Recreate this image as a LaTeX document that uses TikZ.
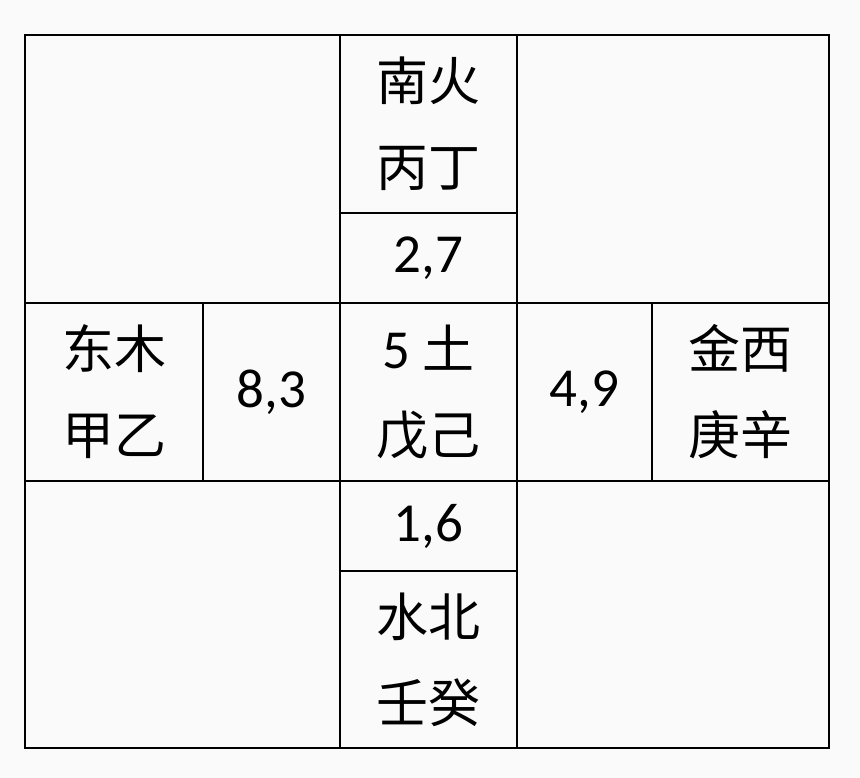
\documentclass[tikz,border=0pt]{standalone}
\usepackage{fontspec}
\setmainfont{Carlito}
\newfontfamily\cjk{Noto Sans CJK SC}
\usetikzlibrary{positioning}
\definecolor{paper}{RGB}{250,250,251}

\begin{document}
\begin{tikzpicture}[x=1pt,y=-1pt,line width=1.8pt,
  cell/.style={draw,outer sep=0pt,inner sep=0pt,minimum width=177pt,minimum height=178pt,align=center,font=\fontsize{52}{86}\selectfont},
  numcell/.style={cell,font=\fontsize{55}{60}\selectfont}]
\useasboundingbox[fill=paper] (0,0) rectangle (860,778);
\node[cell] (earth) at (428.5,392) {{\fontsize{55}{86}\selectfont 5} {\cjk 土}\\{\cjk 戊己}};
\node[numcell,minimum height=90pt,above=0pt of earth] (n27) {2,7};
\node[cell,above=0pt of n27] (fire) {\cjk 南火\\\cjk 丙丁};
\node[numcell,minimum height=90pt,below=0pt of earth] (n16) {1,6};
\node[cell,minimum height=177pt,below=0pt of n16] (water) {\cjk 水北\\\cjk 壬癸};
\node[numcell,minimum width=137pt,left=0pt of earth] (n83) {8,3};
\node[cell,minimum width=178pt,left=0pt of n83] (wood) {\cjk 东木\\\cjk 甲乙};
\node[numcell,minimum width=135pt,right=0pt of earth] (n49) {4,9};
\node[cell,right=0pt of n49] (metal) {\cjk 金西\\\cjk 庚辛};

\node[cell,minimum width=315pt,minimum height=268pt,above left=0pt of earth] (tl) {};
\node[cell,minimum width=312pt,minimum height=268pt,above right=0pt of earth] (tr) {};
\node[cell,minimum width=315pt,minimum height=267pt,below left=0pt of earth] (bl) {};
\node[cell,minimum width=312pt,minimum height=267pt,below right=0pt of earth] (br) {};
\end{tikzpicture}
\end{document}
